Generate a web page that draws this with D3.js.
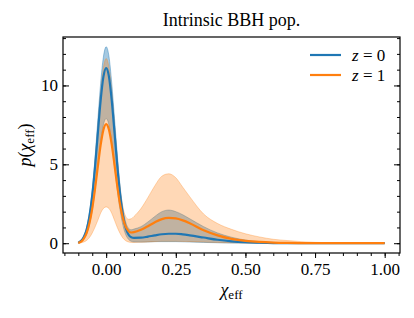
<!DOCTYPE html>
<html>
<head>
<meta charset="utf-8">
<script src="https://cdn.jsdelivr.net/npm/d3@7"></script>
<style>
  body { margin: 0; background: #fff; }
  text { font-family: "Liberation Serif", "DejaVu Serif", serif; fill: #000; }
</style>
</head>
<body>
<div id="chart"></div>
<script>
// chi_eff grid (finer near the narrow peak at zero)
var chi = [-0.10, -0.09, -0.08, -0.07, -0.06, -0.05, -0.04, -0.03, -0.02, -0.01,
    0.00, 0.01, 0.02, 0.03, 0.04, 0.05, 0.06, 0.07, 0.08, 0.09, 0.10,
    0.125, 0.15, 0.175, 0.2, 0.225, 0.25, 0.275, 0.3, 0.35, 0.4, 0.45,
    0.5, 0.55, 0.6, 0.65, 0.7, 0.8, 0.9, 1.0];

// z = 0 : median and 90% band
var z0Med = [0.03, 0.15, 0.4, 0.87, 1.71, 3.02, 4.83, 6.95, 9.02, 10.54,
    11.1, 10.56, 9.05, 7.0, 4.9, 3.1, 1.8, 0.98, 0.55, 0.38, 0.34,
    0.35, 0.42, 0.5, 0.57, 0.6, 0.6, 0.56, 0.5, 0.36, 0.22, 0.12,
    0.06, 0.03, 0.01, 0.005, 0, 0, 0, 0];
var z0Hi = [0.05, 0.2, 0.5, 1.0, 1.95, 3.4, 5.4, 7.8, 10.1, 11.8,
    12.45, 11.85, 10.15, 7.9, 5.6, 3.6, 2.2, 1.35, 0.95, 0.85, 0.9,
    1.05, 1.35, 1.7, 2.0, 2.1, 2.0, 1.8, 1.55, 1.05, 0.65, 0.38,
    0.2, 0.1, 0.05, 0.02, 0.01, 0, 0, 0];
var z0Lo = [0.01, 0.1, 0.28, 0.6, 1.2, 2.1, 3.4, 4.9, 6.4, 7.5,
    7.9, 7.5, 6.4, 4.9, 3.4, 2.1, 1.15, 0.55, 0.25, 0.12, 0.08,
    0.07, 0.08, 0.1, 0.1, 0.1, 0.1, 0.09, 0.08, 0.05, 0.03, 0.01,
    0.005, 0, 0, 0, 0, 0, 0, 0];

// z = 1 : median and 90% band
var z1Med = [0.02, 0.1, 0.3, 0.66, 1.28, 2.2, 3.44, 4.85, 6.2, 7.18,
    7.55, 7.2, 6.25, 4.95, 3.6, 2.45, 1.6, 1.05, 0.78, 0.68, 0.7,
    0.85, 1.08, 1.33, 1.53, 1.6, 1.57, 1.45, 1.27, 0.82, 0.5, 0.28,
    0.15, 0.08, 0.04, 0.02, 0.01, 0, 0, 0];
var z1Hi = [0.04, 0.18, 0.45, 0.95, 1.85, 3.2, 5.1, 7.3, 9.5, 11.1,
    11.7, 11.15, 9.6, 7.45, 5.3, 3.5, 2.3, 1.7, 1.52, 1.55, 1.7,
    2.2, 2.9, 3.65, 4.25, 4.4, 4.15, 3.55, 2.95, 1.85, 1.25, 0.88,
    0.6, 0.4, 0.25, 0.17, 0.1, 0.03, 0.005, 0];
var z1Lo = [0.0, 0.03, 0.08, 0.18, 0.36, 0.65, 1.02, 1.45, 1.9, 2.2,
    2.3, 2.2, 1.9, 1.45, 1.0, 0.62, 0.33, 0.16, 0.08, 0.05, 0.05,
    0.06, 0.08, 0.1, 0.12, 0.12, 0.12, 0.11, 0.1, 0.07, 0.04, 0.02,
    0.01, 0, 0, 0, 0, 0, 0, 0];

var xTicks = [0, 0.25, 0.5, 0.75, 1.0];
var yTicks = [0, 5, 10];
var seriesNames = ['0', '1'];

var W = 414, H = 318;
var m = {top: 37, right: 14, bottom: 65, left: 63};
var iw = W - m.left - m.right, ih = H - m.top - m.bottom;

var blue = '#1f77b4', orange = '#ff7f0e';

var svg = d3.select('#chart').append('svg')
    .attr('width', W).attr('height', H);

var g = svg.append('g')
    .attr('transform', 'translate(' + m.left + ',' + m.top + ')');

var x = d3.scaleLinear().domain([-0.155, 1.055]).range([0, iw]);
var y = d3.scaleLinear().domain([-0.62, 13.07]).range([ih, 0]);

function rows(lo, hi, med) {
    return chi.map(function(c, i) { return {x: c, lo: lo[i], hi: hi[i], med: med[i]}; });
}
var s0 = rows(z0Lo, z0Hi, z0Med);
var s1 = rows(z1Lo, z1Hi, z1Med);

var area = d3.area().curve(d3.curveMonotoneX)
    .x(function(d) { return x(d.x); })
    .y0(function(d) { return y(d.lo); })
    .y1(function(d) { return y(d.hi); });
var line = d3.line().curve(d3.curveMonotoneX)
    .x(function(d) { return x(d.x); })
    .y(function(d) { return y(d.med); });

// bands first, then the medians on top
g.append('path').datum(s0).attr('d', area)
    .attr('fill', blue).attr('fill-opacity', 0.4)
    .attr('stroke', blue).attr('stroke-opacity', 0.4).attr('stroke-width', 1);
g.append('path').datum(s1).attr('d', area)
    .attr('fill', orange).attr('fill-opacity', 0.3)
    .attr('stroke', orange).attr('stroke-opacity', 0.3).attr('stroke-width', 1);
g.append('path').datum(s0).attr('d', line)
    .attr('fill', 'none').attr('stroke', blue).attr('stroke-width', 2.2);
g.append('path').datum(s1).attr('d', line)
    .attr('fill', 'none').attr('stroke', orange).attr('stroke-width', 2.2);

// axes
var minorX = d3.range(-3, 22).map(function(i) { return i * 0.05; });
var minorY = d3.range(0, 14);

function styleAxis(sel) {
    sel.select('.domain').remove();
    sel.selectAll('line').attr('stroke', '#000').attr('stroke-width', 1);
    sel.selectAll('text').attr('font-family', '"Liberation Serif", serif').attr('font-size', 17);
}

g.append('g').attr('transform', 'translate(0,' + ih + ')')
    .call(d3.axisBottom(x).tickValues(minorX).tickFormat('').tickSize(3))
    .call(styleAxis);
g.append('g').attr('transform', 'translate(0,' + ih + ')')
    .call(d3.axisBottom(x).tickValues(xTicks).tickFormat(d3.format('.2f')).tickSize(5).tickPadding(5))
    .call(styleAxis);

g.append('g')
    .call(d3.axisLeft(y).tickValues(minorY).tickFormat('').tickSize(-3))
    .call(styleAxis);
g.append('g')
    .call(d3.axisLeft(y).tickValues(yTicks).tickFormat(d3.format('d')).tickSize(-6).tickPadding(5))
    .call(styleAxis);
g.append('g').attr('transform', 'translate(' + iw + ',0)')
    .call(d3.axisRight(y).tickValues(minorY).tickFormat('').tickSize(-3))
    .call(styleAxis);
g.append('g').attr('transform', 'translate(' + iw + ',0)')
    .call(d3.axisRight(y).tickValues(yTicks).tickFormat('').tickSize(-6))
    .call(styleAxis);

// frame
g.append('rect').attr('width', iw).attr('height', ih)
    .attr('fill', 'none').attr('stroke', '#000').attr('stroke-width', 1.2);

// title
svg.append('text').attr('x', m.left + iw / 2).attr('y', 26)
    .attr('text-anchor', 'middle').attr('font-size', 18)
    .text('Intrinsic BBH pop.');

// x label
var xl = svg.append('text').attr('x', m.left + iw / 2).attr('y', 296)
    .attr('text-anchor', 'middle').attr('font-size', 18);
xl.append('tspan').attr('font-style', 'italic').text('χ');
xl.append('tspan').attr('font-size', 13).attr('dy', 3).text('eff');

// y label
var yl = svg.append('text')
    .attr('transform', 'translate(31,' + (m.top + ih / 2) + ') rotate(-90)')
    .attr('text-anchor', 'middle').attr('font-size', 18);
yl.append('tspan').attr('font-style', 'italic').text('p');
yl.append('tspan').text('(');
yl.append('tspan').attr('font-style', 'italic').text('χ');
yl.append('tspan').attr('font-size', 13).attr('dy', 3).text('eff');
yl.append('tspan').attr('dy', -3).text(')');

// legend
var leg = svg.append('g').attr('transform', 'translate(310,55)');
seriesNames.forEach(function(name, i) {
    var row = leg.append('g').attr('transform', 'translate(0,' + (i * 20) + ')');
    row.append('line').attr('x1', 0).attr('x2', 31)
        .attr('stroke', i === 0 ? blue : orange).attr('stroke-width', 2.2);
    var t = row.append('text').attr('x', 42).attr('y', 5.5).attr('font-size', 17);
    t.append('tspan').attr('font-style', 'italic').text('z');
    t.append('tspan').text(' = ' + name);
});
</script>
</body>
</html>
